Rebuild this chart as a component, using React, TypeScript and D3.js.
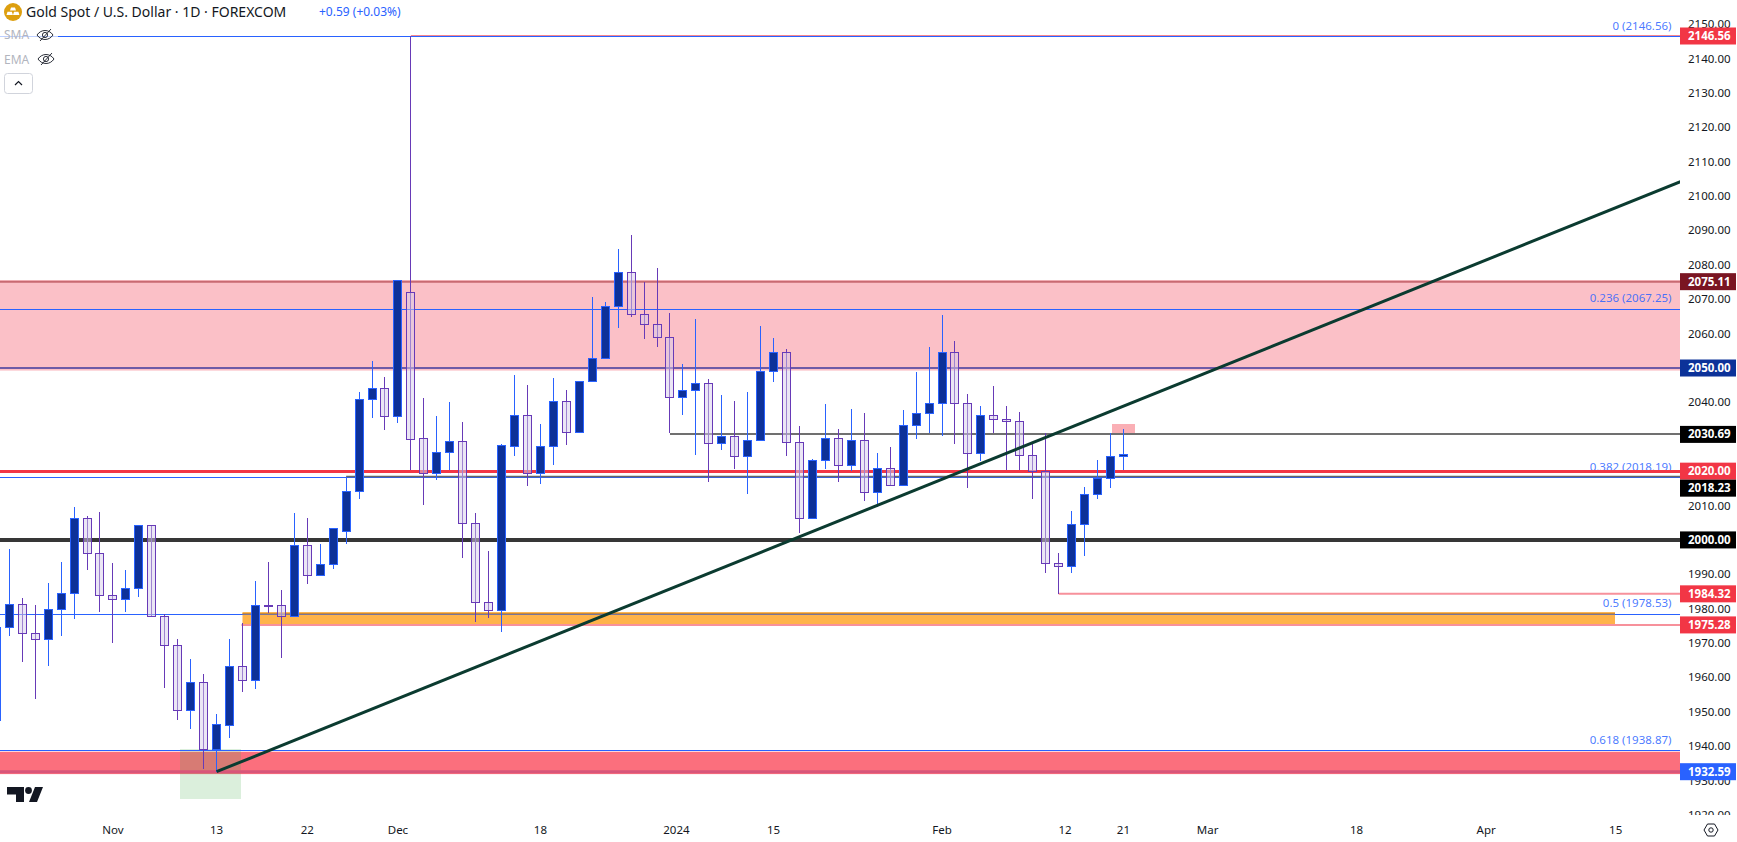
import { useMemo } from "react";
import * as d3 from "d3";

// daily bars, oldest first
const opens = [
  1947.6, 1974.6, 1981.5, 1972.8, 1971.1, 1979.8, 1984.7, 2006.3, 1996.1, 1983.9, 1982.7, 1985.9, 2004.2, 1977.8, 1969.3, 1950.4,
  1958.6, 1939.1, 1946.3, 1963.2, 1959.4, 1981.2, 1981.0, 1978.0, 1998.4, 1989.9, 1992.9, 2002.5, 2014.1, 2040.9, 2044.1, 2036.1,
  2072.0, 2029.5, 2019.4, 2025.5, 2028.7, 2004.8, 1981.8, 1979.5, 2027.4, 2036.2, 2019.6, 2027.2, 2040.3, 2031.3, 2046.1, 2052.8,
  2067.9, 2077.8, 2065.6, 2062.7, 2058.9, 2041.5, 2043.5, 2045.5, 2028.1, 2030.1, 2024.3, 2029.0, 2049.0, 2054.8, 2028.4, 2006.3,
  2023.1, 2029.5, 2021.7, 2029.2, 2013.8, 2020.8, 2015.9, 2033.3, 2036.8, 2039.7, 2054.8, 2039.7, 2025.2, 2036.2, 2035.1, 2034.5,
  2024.6, 2020.1, 1993.2, 1992.3, 2004.5, 2013.5, 2017.9, 2024.3,
];
const highs = [
  1975.5, 1997.3, 1983.1, 1981.1, 1987.4, 1993.6, 2009.6, 2007.0, 2008.1, 1993.3, 1991.2, 2004.2, 2004.2, 1978.6, 1971.1, 1965.5,
  1960.9, 1949.4, 1971.2, 1975.7, 1988.0, 1993.6, 1985.4, 2007.8, 2006.4, 1998.8, 2003.6, 2018.4, 2043.0, 2051.9, 2047.4, 2075.5,
  2146.56, 2041.3, 2036.0, 2040.1, 2034.3, 2007.8, 1996.8, 2027.9, 2048.0, 2045.0, 2033.7, 2047.1, 2043.6, 2046.1, 2070.6, 2069.2,
  2084.5, 2088.7, 2075.0, 2079.1, 2066.0, 2051.2, 2064.2, 2046.8, 2042.1, 2040.4, 2043.0, 2062.2, 2058.7, 2055.5, 2033.0, 2023.4,
  2039.4, 2032.3, 2038.0, 2036.8, 2025.3, 2026.9, 2037.7, 2048.8, 2056.1, 2065.3, 2057.8, 2042.3, 2038.9, 2044.7, 2038.9, 2037.1,
  2027.8, 2031.0, 1996.1, 2008.4, 2015.4, 2023.2, 2031.0, 2032.2,
];
const lows = [
  1946.0, 1972.1, 1964.6, 1953.8, 1963.4, 1972.1, 1977.1, 1991.3, 1979.1, 1970.1, 1979.1, 1983.5, 1977.8, 1957.0, 1947.7, 1945.1,
  1933.4, 1932.6, 1942.5, 1955.8, 1956.7, 1978.8, 1965.7, 1977.7, 1987.2, 1989.5, 1991.6, 1998.9, 2011.9, 2035.4, 2032.0, 2034.1,
  2020.3, 2010.2, 2017.5, 2020.3, 1994.8, 1976.2, 1977.4, 1973.3, 2024.4, 2015.8, 2016.2, 2021.8, 2027.6, 2031.3, 2046.1, 2052.8,
  2061.7, 2064.9, 2058.5, 2056.2, 2031.0, 2036.4, 2024.8, 2016.9, 2026.2, 2020.7, 2013.4, 2029.0, 2046.0, 2024.5, 2002.1, 2006.3,
  2020.7, 2016.9, 2019.9, 2011.4, 2009.7, 2015.9, 2015.9, 2029.3, 2031.0, 2030.3, 2027.9, 2015.1, 2022.9, 2031.0, 2020.3, 2020.3,
  2011.9, 1990.5, 1984.32, 1990.5, 1995.4, 2011.9, 2015.2, 2020.3,
];
const closes = [
  1974.7, 1981.5, 1972.8, 1971.1, 1979.8, 1984.7, 2006.3, 1996.1, 1983.9, 1982.7, 1985.9, 2004.2, 1977.8, 1969.3, 1950.4, 1958.6,
  1939.1, 1946.4, 1963.2, 1959.4, 1981.2, 1981.0, 1978.0, 1998.4, 1989.9, 1992.9, 2003.6, 2014.1, 2040.9, 2044.1, 2036.1, 2075.5,
  2029.4, 2019.4, 2025.5, 2028.7, 2004.8, 1981.8, 1979.5, 2027.5, 2036.2, 2019.6, 2027.2, 2040.3, 2031.3, 2046.1, 2052.8, 2067.9,
  2077.8, 2065.6, 2062.7, 2058.9, 2041.5, 2043.5, 2045.5, 2028.1, 2030.1, 2024.3, 2029.0, 2049.0, 2054.8, 2028.4, 2006.3, 2023.1,
  2029.5, 2021.7, 2029.2, 2013.8, 2020.8, 2015.9, 2033.3, 2036.8, 2039.7, 2054.8, 2039.7, 2025.2, 2036.2, 2035.1, 2034.5, 2024.6,
  2020.1, 1993.2, 1992.3, 2004.5, 2013.5, 2017.9, 2024.3, 2024.9,
];

const priceTicks = d3.range(1920, 2151, 10);

// time axis, label text and the bar slot it sits under
const timeLabels = ["Nov", "13", "22", "Dec", "18", "2024", "15", "Feb", "12", "21", "Mar", "18", "Apr", "15"];
const timeSlots = [9, 17, 24, 31, 42, 52.5, 60, 73, 82.5, 87, 93.5, 105, 115, 125];

const fibRatios = ["0", "0.236", "0.382", "0.5", "0.618"];
const fibPrices = [2146.56, 2067.25, 2018.19, 1978.53, 1938.87];

const tagPrices = [2146.56, 2075.11, 2050.0, 2030.69, 2020.0, 2018.23, 2000.0, 1984.32, 1975.28, 1932.59];
const tagColors = ["#f23645", "#7a1522", "#0c3299", "#000000", "#f23645", "#000000", "#000000", "#f23645", "#f23645", "#2962ff"];

const trendSlots = [17, 130];
const trendPrices = [1932.59, 2104.2];

const WIDTH = 1737;
const HEIGHT = 842;
const PLOT_R = 1680;
const PLOT_B = 815;
const FONT = "'Noto Sans', sans-serif";
const BULL_LINE = "#2962ff";
const BEAR_LINE = "#673ab7";

function EyeOff({ x, y }: { x: number; y: number }) {
  return (
    <g transform={`translate(${x},${y})`} fill="none" stroke="#131722" strokeWidth={0.9}>
      <path d="M-8 0C-4-6 4-6 8 0C4 6-4 6-8 0Z" />
      <circle r={2.6} />
      <path d="M-5 6L6-6" />
    </g>
  );
}

export default function App() {
  const y = useMemo(() => d3.scaleLinear().domain([2146.56, 1932.59]).range([36, 771.7]), []);
  const x = useMemo(() => d3.scaleLinear().domain([0, 87]).range([-3.65, 1123.4]), []);
  const py = (p: number) => Math.round(y(p));
  const bars = d3.range(opens.length).map((i) => ({ i, o: opens[i], h: highs[i], l: lows[i], c: closes[i] }));
  const trend = d3.line<number>().x((_, k) => x(trendSlots[k])).y((d) => y(d))(trendPrices) ?? "";

  // price tags push each other down when they would overlap
  const tagH = 17;
  const tags = tagPrices.map((p, k) => ({ p, color: tagColors[k], cy: y(p) }));
  for (let k = 1; k < tags.length; k++) {
    if (tags[k].cy - tags[k - 1].cy < tagH) tags[k].cy = tags[k - 1].cy + tagH;
  }

  return (
    <svg
      width={WIDTH}
      height={HEIGHT}
      viewBox={`0 0 ${WIDTH} ${HEIGHT}`}
      style={{ position: "absolute", left: 0, top: 0, background: "#fff", fontFamily: FONT }}
    >
      <defs>
        <clipPath id="plot">
          <rect x={0} y={0} width={PLOT_R} height={PLOT_B} />
        </clipPath>
        <clipPath id="axis">
          <rect x={PLOT_R} y={0} width={WIDTH - PLOT_R} height={PLOT_B} />
        </clipPath>
      </defs>

      <g clipPath="url(#plot)">
        {/* zones */}
        <rect x={0} width={PLOT_R} y={y(2075.11) - 1.6} height={y(2050) - y(2075.11) + 4.2} fill="#fbc0c7" />
        <rect x={x(19)} width={1615 - x(19)} y={y(1978.53) - 1.7} height={y(1975.28) - y(1978.53) + 1.2} fill="#ffb34a" />
        <rect x={0} width={PLOT_R} y={y(1938.87) + 1.6} height={y(1932.59) - y(1938.87) + 0.8} fill="#fb6f7d" />
        <rect x={180} width={61} y={749} height={50} fill="#4caf50" fillOpacity={0.2} />
        <rect x={1112} width={23} y={424} height={10} fill="#f23645" fillOpacity={0.4} />

        {/* fib labels sit under the level lines */}
        {fibRatios.map((r, k) => (
          <text key={r} x={1671.5} y={y(fibPrices[k]) - 6.5} textAnchor="end" fontSize={11.5} fill="#2962ff" fillOpacity={0.85}>
            {`${r} (${fibPrices[k].toFixed(2)})`}
          </text>
        ))}

        {/* fib levels */}
        {fibPrices.map((p) => (
          <line key={p} x1={0} x2={PLOT_R} y1={py(p) + 0.5} y2={py(p) + 0.5} stroke="#2962ff" strokeWidth={1} />
        ))}

        {/* horizontals */}
        <line x1={x(32)} x2={PLOT_R} y1={py(2146.56) - 0.5} y2={py(2146.56) - 0.5} stroke="#f23645" strokeOpacity={0.6} />
        <line x1={0} x2={PLOT_R} y1={y(2075.11)} y2={y(2075.11)} stroke="#c96a72" strokeWidth={2} />
        <line x1={0} x2={PLOT_R} y1={y(2050)} y2={y(2050)} stroke="#3f3a9c" strokeWidth={1.6} />
        <line x1={x(52)} x2={PLOT_R} y1={py(2030.69)} y2={py(2030.69)} stroke="#707070" strokeWidth={2} />
        <line x1={0} x2={PLOT_R} y1={y(2020) + 0.4} y2={y(2020) + 0.4} stroke="#f23645" strokeWidth={3} />
        <line x1={x(27)} x2={PLOT_R} y1={py(2018.23) - 0.5} y2={py(2018.23) - 0.5} stroke="#666" strokeWidth={1.4} />
        <line x1={0} x2={PLOT_R} y1={y(2000)} y2={y(2000)} stroke="#363636" strokeWidth={4} />
        <line x1={x(82)} x2={PLOT_R} y1={y(1984.32)} y2={y(1984.32)} stroke="#f7919b" strokeWidth={2} />
        <line x1={x(19) - 1} x2={PLOT_R} y1={y(1975.28)} y2={y(1975.28)} stroke="#f7919b" strokeWidth={2} />
        <line x1={x(19)} x2={1615} y1={y(1978.53)} y2={y(1978.53)} stroke="#c98a3a" strokeWidth={1.4} />
        <line x1={0} x2={PLOT_R} y1={y(1932.59)} y2={y(1932.59)} stroke="#d8567a" strokeWidth={3} />

        {/* candles */}
        {bars.map((b) => {
          const up = b.c >= b.o;
          const line = up ? BULL_LINE : BEAR_LINE;
          const cx = Math.floor(x(b.i)) + 0.5;
          const top = py(Math.max(b.o, b.c));
          const bot = py(Math.min(b.o, b.c));
          return (
            <g key={b.i}>
              <line x1={cx} x2={cx} y1={py(b.h)} y2={py(b.l)} stroke={line} strokeWidth={1} />
              {up && <rect x={cx - 4} y={top + 0.5} width={8} height={Math.max(bot - top, 1)} fill="#0d3199" stroke={line} />}
              {!up && (
                <>
                  <rect x={cx - 4} y={top + 0.5} width={8} height={Math.max(bot - top, 1)} fill="#fff" fillOpacity={0} stroke="none" />
                  <rect x={cx - 4} y={top + 0.5} width={8} height={Math.max(bot - top, 1)} fill="#d7cdeb" fillOpacity={0.5} stroke={line} />
                </>
              )}
            </g>
          );
        })}

        {/* trend line */}
        <path d={trend} fill="none" stroke="#0b3b30" strokeWidth={3} />
      </g>

      {/* legend */}
      <rect x={0} y={26} width={58} height={20} fill="#fff" fillOpacity={0.7} />
      <circle cx={13} cy={12} r={9} fill="#dd9f0f" />
      <path d="M11 7.5h4l1 3h-6ZM7.5 11.8h4.4l1 3.2H6.5ZM14 11.8h4.4l1 3.2h-6.4Z" fill="#fff" />
      <text x={26} y={17} fontSize={14} fill="#131722">
        Gold Spot / U.S. Dollar · 1D · FOREXCOM
      </text>
      <text x={319} y={16} fontSize={12} fill="#2962ff">
        +0.59 (+0.03%)
      </text>
      <text x={4} y={39} fontSize={12} fill="#b2b5be">
        SMA
      </text>
      <EyeOff x={45} y={35} />
      <text x={4} y={64} fontSize={12} fill="#b2b5be">
        EMA
      </text>
      <EyeOff x={46} y={59} />
      <rect x={4.5} y={73.5} width={28} height={20} rx={3} fill="#fff" stroke="#d1d4dc" />
      <path d="M15 85l3.5-3.5L22 85" fill="none" stroke="#131722" strokeWidth={1.2} />

      {/* tradingview mark */}
      <path d="M7 787h17v15h-8v-7.5H7Z M29 802l6-15h8l-6 15Z" fill="#131722" />
      <circle cx={28.5} cy={790.5} r={3.4} fill="#131722" />

      {/* price axis */}
      <g clipPath="url(#axis)">
        {priceTicks.map((t) => (
          <text key={t} x={1688} y={y(t)} dy="0.35em" fontSize={11.5} fill="#131722">
            {t.toFixed(2)}
          </text>
        ))}
      </g>
      {tags.map((t) => (
        <g key={t.p}>
          <rect x={PLOT_R} y={t.cy - tagH / 2} width={56} height={tagH} fill={t.color} />
          <text x={1688} y={t.cy} dy="0.35em" fontSize={11.5} fontWeight={700} fill="#fff">
            {t.p.toFixed(2)}
          </text>
        </g>
      ))}

      {/* time axis */}
      {timeLabels.map((l, k) => (
        <text key={`${l}${k}`} x={x(timeSlots[k])} y={830} dy="0.35em" textAnchor="middle" fontSize={11.5} fill="#131722">
          {l}
        </text>
      ))}
      <g transform="translate(1711,830)" fill="none" stroke="#131722" strokeWidth={1}>
        <path d="M-7 0L-3.5-6H3.5L7 0L3.5 6H-3.5Z" />
        <circle r={2.2} />
      </g>
    </svg>
  );
}
